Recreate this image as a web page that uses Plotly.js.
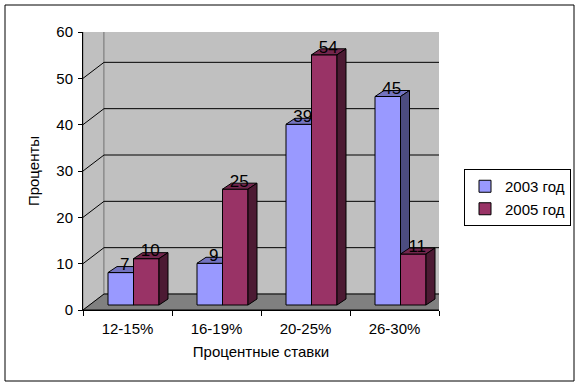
<!DOCTYPE html>
<html>
<head>
<meta charset="utf-8">
<script src="https://cdn.plot.ly/plotly-3.0.1.min.js"></script>
<style>html,body{margin:0;padding:0;background:#fff;}#chart{width:581px;height:387px;}</style>
</head>
<body>
<div id="chart"></div>
<script>
// ---- data ----
var categories = ["12-15%", "16-19%", "20-25%", "26-30%"];
var series2003 = [7, 9, 39, 45];
var series2005 = [10, 25, 54, 11];
var seriesNames = ["2003 год", "2005 год"];
var yTicks = [0, 10, 20, 30, 40, 50, 60];
var xTitle = "Процентные ставки";
var yTitle = "Проценты";

// ---- geometry (pixels -> axis units) ----
var L = 83, R = 439, T = 32, B = 310;
var xMin = -0.5, xMax = categories.length - 0.5, yMin = 0, yMax = 60;
var pxX = (R - L) / (xMax - xMin);
var pxY = (B - T) / (yMax - yMin);
var WDX = 21 / pxX, WDY = 16 / pxY;   // wall depth
var BSX = 6 / pxX, BSY = 5 / pxY;     // bar shift (mid-depth)
var BDX = 9 / pxX, BDY = 6 / pxY;     // bar depth
var BW = 25.5 / pxX;                  // bar width
var FONT = 'Liberation Sans, Arial, sans-serif';

var xIdx = categories.map(function (c, i) { return i; });
var xBounds = [xMin].concat(xIdx.map(function (i) { return i + 0.5; }));

function faces(vals, left) {
  var top = {x: [], y: []}, side = {x: [], y: []};
  vals.forEach(function (v, i) {
    var xl = left ? i - BW : i, xr = xl + BW;
    top.x.push(xl, xl + BDX, xr + BDX, xr, xl, null);
    top.y.push(v, v + BDY, v + BDY, v, v, null);
    side.x.push(xr, xr + BDX, xr + BDX, xr, xr, null);
    side.y.push(0, BDY, v + BDY, v, 0, null);
  });
  return {top: top, side: side};
}

function faceTrace(pts, color, ax) {
  return {type: 'scatter', mode: 'lines', x: pts.x, y: pts.y, fill: 'toself',
    fillcolor: color, line: {color: '#000', width: 1}, xaxis: 'x' + ax, yaxis: 'y' + ax,
    showlegend: false, hoverinfo: 'skip'};
}

var f03 = faces(series2003, true), f05 = faces(series2005, false);

var labX = [], labY = [], labT = [];
series2003.forEach(function (v, i) { labX.push(i - BW / 2 + 4 / pxX); labY.push(v + 6.5 / pxY); labT.push(String(v)); });
series2005.forEach(function (v, i) { labX.push(i + BW / 2 + 4 / pxX); labY.push(v + 6.5 / pxY); labT.push(String(v)); });

var data = [
  {type: 'scatter', mode: 'markers', x: [xIdx[0]], y: [yMin], xaxis: 'x4', yaxis: 'y',
   marker: {opacity: 0}, showlegend: false, hoverinfo: 'skip'},
  {type: 'bar', name: seriesNames[0], x: xIdx, y: series2003, width: BW, offset: -BW,
   marker: {color: '#9999FF', line: {color: '#000', width: 1}}, xaxis: 'x2', yaxis: 'y2', hoverinfo: 'y'},
  faceTrace(f03.top, '#7373BF', 2),
  faceTrace(f03.side, '#4C4C80', 2),
  {type: 'bar', name: seriesNames[1], x: xIdx, y: series2005, width: BW, offset: 0,
   marker: {color: '#993366', line: {color: '#000', width: 1}}, xaxis: 'x3', yaxis: 'y3', hoverinfo: 'y'},
  faceTrace(f05.top, '#73264D', 3),
  faceTrace(f05.side, '#4C1A33', 3),
  {type: 'scatter', mode: 'text', x: labX, y: labY, text: labT, xaxis: 'x3', yaxis: 'y3',
   textfont: {family: FONT, size: 17, color: '#000'}, showlegend: false, hoverinfo: 'skip', cliponaxis: false}
];

var shapes = [];
// side wall
shapes.push({type: 'path', xref: 'x', yref: 'y', layer: 'below',
  path: 'M' + xMin + ',' + yMin + 'L' + (xMin + WDX) + ',' + (yMin + WDY) + 'L' + (xMin + WDX) + ',' + (yMax + WDY) + 'L' + xMin + ',' + yMax + 'Z',
  fillcolor: '#C0C0C0', line: {color: '#808080', width: 1}});
// back wall
shapes.push({type: 'rect', xref: 'x', yref: 'y', layer: 'below',
  x0: xMin + WDX, x1: xMax + WDX, y0: yMin + WDY, y1: yMax + WDY,
  fillcolor: '#C0C0C0', line: {color: '#808080', width: 1}});
// floor
shapes.push({type: 'path', xref: 'x', yref: 'y', layer: 'below',
  path: 'M' + xMin + ',' + yMin + 'L' + (xMin + WDX) + ',' + (yMin + WDY) + 'L' + (xMax + WDX) + ',' + (yMin + WDY) + 'L' + xMax + ',' + yMin + 'Z',
  fillcolor: '#808080', line: {color: '#000', width: 1}});
// gridlines
yTicks.forEach(function (v) {
  if (v <= yMin || v >= yMax) return;
  shapes.push({type: 'path', xref: 'x', yref: 'y', layer: 'below',
    path: 'M' + xMin + ',' + v + 'L' + (xMin + WDX) + ',' + (v + WDY) + 'L' + (xMax + WDX) + ',' + (v + WDY),
    line: {color: '#000', width: 1}});
});
// outer chart border
shapes.push({type: 'rect', xref: 'paper', yref: 'paper',
  x0: (5 - L) / (R - L), x1: (574 - L) / (R - L), y0: (B - 381) / (B - T), y1: (B - 5) / (B - T),
  line: {color: '#000', width: 1}, fillcolor: 'rgba(0,0,0,0)'});

var hidden = function (anchor, range) {
  return {anchor: anchor, range: range, visible: false, showgrid: false, zeroline: false, fixedrange: true};
};
var tf = {family: FONT, size: 15, color: '#000'};

var layout = {
  width: 581, height: 387,
  margin: {l: L, r: 581 - R, t: T, b: 387 - B, pad: 0, autoexpand: false},
  paper_bgcolor: '#fff', plot_bgcolor: 'rgba(0,0,0,0)',
  font: tf,
  showlegend: true,
  legend: {x: (571 - L) / (R - L), y: (B - 169) / (B - T), xanchor: 'right', yanchor: 'top',
    bordercolor: '#000', borderwidth: 1, bgcolor: '#fff', font: tf, tracegroupgap: 0, itemwidth: 30},
  // boundary tick marks
  xaxis: {range: [xMin, xMax], tickvals: xBounds, ticktext: xBounds.map(function () { return ''; }),
    ticks: 'outside', ticklen: 5, tickcolor: '#000', tickwidth: 1, automargin: false,
    showline: true, linecolor: '#000', linewidth: 1, showgrid: false, zeroline: false, fixedrange: true},
  // category labels and title
  xaxis4: {overlaying: 'x', anchor: 'y', side: 'bottom', range: [xMin, xMax], tickvals: xIdx, ticktext: categories,
    ticks: '', showline: false, showgrid: false, zeroline: false, fixedrange: true, ticklabelstandoff: 8, automargin: false,
    tickfont: tf, title: {text: xTitle, font: tf, standoff: 10}},
  yaxis: {range: [yMin, yMax], tickvals: yTicks, ticks: 'outside', ticklen: 4, tickcolor: '#000', automargin: false,
    showline: true, linecolor: '#000', linewidth: 1, showgrid: false, zeroline: false, fixedrange: true,
    ticklabelstandoff: 2, tickfont: tf, title: {text: yTitle, font: tf, standoff: 13}},
  xaxis2: hidden('y2', [xMin - BSX, xMax - BSX]),
  yaxis2: hidden('x2', [yMin - BSY, yMax - BSY]),
  xaxis3: hidden('y3', [xMin - BSX, xMax - BSX]),
  yaxis3: hidden('x3', [yMin - BSY, yMax - BSY]),
  shapes: shapes
};

Plotly.newPlot('chart', data, layout, {displayModeBar: false, staticPlot: true});
</script>
</body>
</html>
